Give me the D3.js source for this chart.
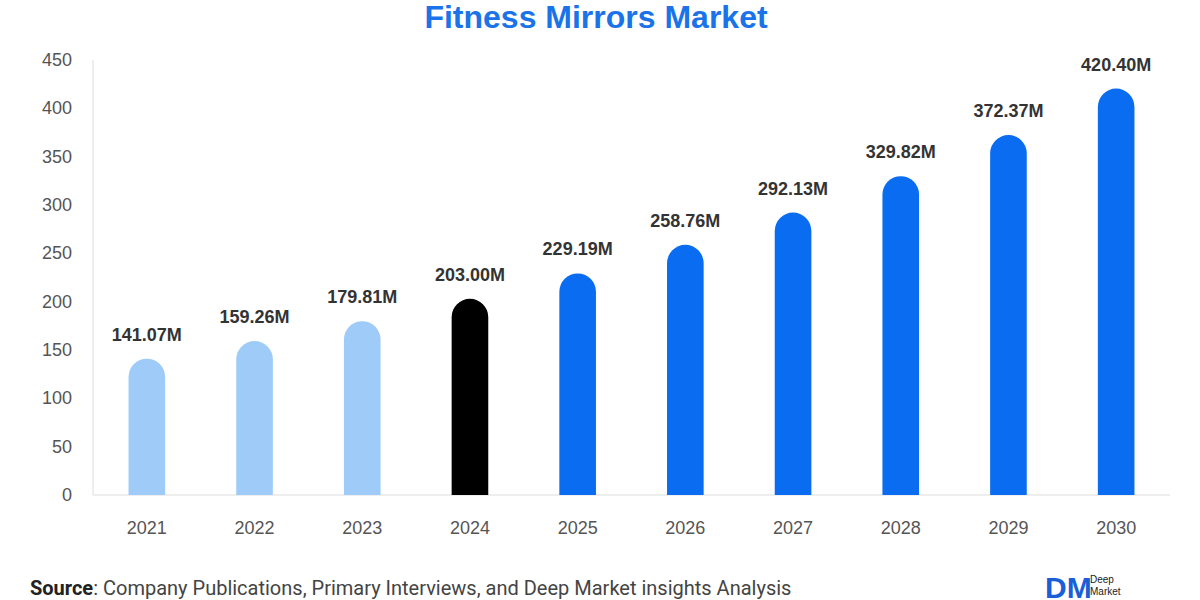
<!DOCTYPE html><html><head><meta charset="utf-8"><script src="https://cdn.jsdelivr.net/npm/d3@7"></script>
<style>body{margin:0;background:#fff}</style></head><body><svg id="c" width="1200" height="600"></svg>
<script>
const years=["2021","2022","2023","2024","2025","2026","2027","2028","2029","2030"];
const values=[141.07,159.26,179.81,203.00,229.19,258.76,292.13,329.82,372.37,420.40];
const labels=["141.07M","159.26M","179.81M","203.00M","229.19M","258.76M","292.13M","329.82M","372.37M","420.40M"];
const yTicks=[0,50,100,150,200,250,300,350,400,450];
const svg=d3.select("#c");
const x=d3.scaleBand().domain(years).range([93,1170]).paddingInner(0.66).paddingOuter(0.33);
const y=d3.scaleLinear().domain([0,450]).range([495,60]);
const col=i=>i<3?"#9fcbf8":i===3?"#000":"#0a6cf0";
svg.append("text").attr("x",596).attr("y",28).attr("text-anchor","middle").attr("font-family","Liberation Sans, Arial").attr("font-weight","bold").attr("font-size",32).attr("fill","#1a73e8").text("Fitness Mirrors Market");
svg.append("line").attr("x1",93).attr("x2",93).attr("y1",60).attr("y2",495).attr("stroke","#ddd");
svg.append("line").attr("x1",93).attr("x2",1170).attr("y1",495).attr("y2",495).attr("stroke","#ddd");
yTicks.forEach(t=>svg.append("text").attr("x",72).attr("y",y(t)+6).attr("text-anchor","end").attr("font-family","Liberation Sans, Arial").attr("font-size",18).attr("fill","#555").text(t));
years.forEach((yr,i)=>{
 const x0=x(yr),w=x.bandwidth(),r=w/2,top=y(values[i]),b=y(0);
 svg.append("path").attr("fill",col(i)).attr("d",`M${x0},${b}V${top+r}A${r},${r} 0 0 1 ${x0+w},${top+r}V${b}Z`);
 svg.append("text").attr("x",x0+w/2).attr("y",top-18).attr("text-anchor","middle").attr("font-family","Liberation Sans, Arial").attr("font-weight","bold").attr("font-size",18).attr("fill","#333").text(labels[i]);
 svg.append("text").attr("x",x0+w/2).attr("y",534).attr("text-anchor","middle").attr("font-family","Liberation Sans, Arial").attr("font-size",18).attr("fill","#555").text(yr);
});
const s=svg.append("text").attr("x",30).attr("y",595).attr("font-family","Roboto").attr("font-size",20).attr("fill","#444");
s.append("tspan").attr("font-weight","bold").attr("fill","#222").text("Source");
s.append("tspan").text(": Company Publications, Primary Interviews, and Deep Market insights Analysis");
svg.append("text").attr("x",1045).attr("y",598).attr("font-family","Liberation Sans, Arial").attr("font-weight","bold").attr("font-size",30).attr("fill","#1a5fd8").text("DM");
svg.append("text").attr("x",1090).attr("y",583).attr("font-family","Liberation Sans, Arial").attr("font-size",10).attr("fill","#222").text("Deep");
svg.append("text").attr("x",1090).attr("y",595).attr("font-family","Liberation Sans, Arial").attr("font-size",10).attr("fill","#222").text("Market");
</script></body></html>
